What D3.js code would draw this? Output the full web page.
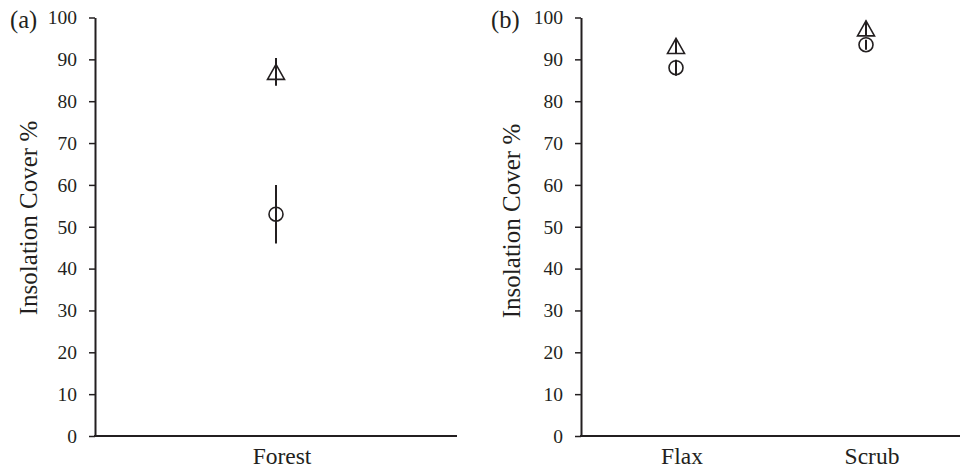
<!DOCTYPE html>
<html>
<head>
<meta charset="utf-8">
<script src="https://cdn.jsdelivr.net/npm/d3@7"></script>
<style>
  html, body { margin: 0; padding: 0; background: #fff; }
  svg { display: block; }
  text { font-family: "Liberation Serif", "Times New Roman", serif; fill: #231f20; }
</style>
</head>
<body>
<svg id="chart" width="960" height="471"></svg>
<script>
// Habitat groups per panel
const panelLetters = ["(a)", "(b)"];
const panelCategories = [["Forest"], ["Flax", "Scrub"]];

// Triangle series: mean and error (± %)
const triangleMean = [[87.0], [93.2, 97.4]];
const triangleErr  = [[3.3],  [1.7, 1.8]];

// Circle series: mean and error (± %)
const circleMean = [[53.0], [88.0, 93.5]];
const circleErr  = [[7.0],  [1.9, 1.2]];

const yTicks = [0, 10, 20, 30, 40, 50, 60, 70, 80, 90, 100];
const yTitle = "Insolation Cover %";

const ink = "#231f20";
const svg = d3.select("#chart");

// Panel frames: axis x-position and right end of the category axis
const frames = [
  { left: 95,  right: 457, letterX: 10,  titleX: 37,  titleY: 218 },
  { left: 581, right: 961, letterX: 491, titleX: 520, titleY: 221 }
];
const plotTop = 17.5, plotBottom = 436;

const y = d3.scaleLinear().domain([0, 100]).range([plotBottom, plotTop]);

// Triangle outline centred on its bounding box
function trianglePath(w, h) {
  return `M0,${-h / 2}L${w / 2},${h / 2}L${-w / 2},${h / 2}Z`;
}

frames.forEach((f, p) => {
  const g = svg.append("g");
  const cats = panelCategories[p];
  const x = d3.scaleBand().domain(cats).range([f.left, f.right]);

  // y axis
  const ax = g.append("g")
    .attr("transform", `translate(${f.left},0)`)
    .call(d3.axisLeft(y).tickValues(yTicks).tickSize(6).tickSizeOuter(0).tickPadding(12));
  ax.select(".domain").attr("stroke", ink).attr("stroke-width", 2);
  ax.selectAll(".tick line").attr("stroke", ink).attr("stroke-width", 1.5);
  ax.selectAll(".tick text")
    .style("font-family", "'Liberation Serif', 'Times New Roman', serif")
    .style("font-size", "19.5px").attr("fill", ink);

  // category axis baseline
  g.append("line")
    .attr("x1", f.left - 1).attr("x2", f.right)
    .attr("y1", y(0)).attr("y2", y(0))
    .attr("stroke", ink).attr("stroke-width", 2);

  // category labels
  g.selectAll("text.cat").data(cats).join("text")
    .attr("class", "cat")
    .attr("x", d => x(d) + x.bandwidth() / 2 + 6)
    .attr("y", 464)
    .attr("text-anchor", "middle")
    .style("font-size", "23.5px")
    .text(d => d);

  // axis title
  g.append("text")
    .attr("transform", `translate(${f.titleX},${f.titleY}) rotate(-90)`)
    .attr("text-anchor", "middle")
    .style("font-size", "25px")
    .text(yTitle);

  // panel letter
  g.append("text")
    .attr("x", f.letterX).attr("y", 28)
    .style("font-size", "24.5px")
    .text(panelLetters[p]);

  const pts = cats.map((c, i) => ({
    cx: x(c) + x.bandwidth() / 2,
    tm: triangleMean[p][i], te: triangleErr[p][i],
    cm: circleMean[p][i], ce: circleErr[p][i]
  }));

  // error bars
  pts.forEach(d => {
    g.append("line")
      .attr("x1", d.cx).attr("x2", d.cx)
      .attr("y1", y(d.tm + d.te)).attr("y2", y(d.tm - d.te))
      .attr("stroke", ink).attr("stroke-width", 2);
    g.append("line")
      .attr("x1", d.cx).attr("x2", d.cx)
      .attr("y1", y(d.cm + d.ce)).attr("y2", y(d.cm - d.ce))
      .attr("stroke", ink).attr("stroke-width", 2);
  });

  // hollow triangle markers
  g.selectAll("path.tri").data(pts).join("path")
    .attr("class", "tri")
    .attr("transform", d => `translate(${d.cx},${y(d.tm)})`)
    .attr("d", trianglePath(17, 15))
    .attr("fill", "none").attr("stroke", ink).attr("stroke-width", 1.6);

  // hollow circle markers
  g.selectAll("circle.dot").data(pts).join("circle")
    .attr("class", "dot")
    .attr("cx", d => d.cx).attr("cy", d => y(d.cm))
    .attr("r", 7)
    .attr("fill", "none").attr("stroke", ink).attr("stroke-width", 1.6);
});
</script>
</body>
</html>
